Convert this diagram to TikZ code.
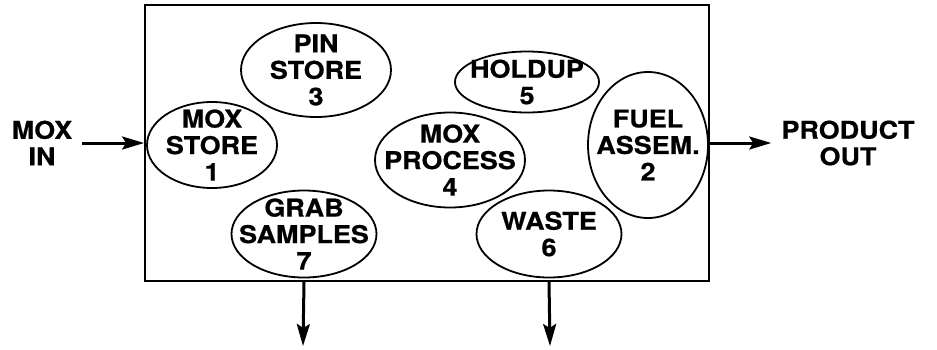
\documentclass[tikz,border=0pt]{standalone}
\usepackage{fontspec}
\setmainfont[FakeStretch=1.1,FakeBold=0.6]{TeX Gyre Heros}
\usetikzlibrary{shapes.geometric,arrows.meta,calc}
\begin{document}
\begin{tikzpicture}[x=1pt,y=-1pt,
  lbl/.style={font=\bfseries\fontsize{24.5}{26.5}\selectfont,align=center,inner sep=0pt},
  ell/.style={ellipse,draw,line width=1.8pt,inner sep=0pt,label={[lbl]center:#1}},
  arr/.style={line width=3pt,-{Stealth[length=22pt,width=13pt,inset=4pt]}}]
\useasboundingbox (0,0) rectangle (937,349);
\node[draw,line width=1.8pt,minimum width=564pt,minimum height=276pt,inner sep=0pt] (box) at (427,143) {};
\node[ell={MOX\\STORE\\1},minimum width=130pt,minimum height=86pt] (s1) at (212,145) {};
\node[ell={PIN\\STORE\\3},minimum width=150pt,minimum height=94pt] (s3) at (316,70) {};
\node[ell={GRAB\\SAMPLES\\7},minimum width=145pt,minimum height=87pt] (s7) at (304,234) {};
\node[ell={MOX\\PROCESS\\4},minimum width=150pt,minimum height=95pt] (s4) at (450,160) {};
\node[ell={HOLDUP\\5},minimum width=144pt,minimum height=61pt] (s5) at (527,82) {};
\node[ell={FUEL\\ASSEM.\\2},minimum width=120pt,minimum height=146pt] (s2) at (648,145) {};
\node[ell={WASTE\\6},minimum width=145pt,minimum height=87pt] (s6) at (549,234) {};
\node[lbl] (in) at (42,143) {MOX\\IN};
\node[lbl] (out) at (848,143) {PRODUCT\\OUT};
\coordinate (d7) at (303,346);
\coordinate (d6) at (550,346);
\draw[arr] ($(in.east)+(10pt,0)$) -- (box.west);
\draw[arr] (box.east) -- ($(out.west)+(-10pt,0)$);
\draw[arr] (s7.south |- box.south) -- (d7);
\draw[arr] (s6.south |- box.south) -- (d6);
\end{tikzpicture}
\end{document}
